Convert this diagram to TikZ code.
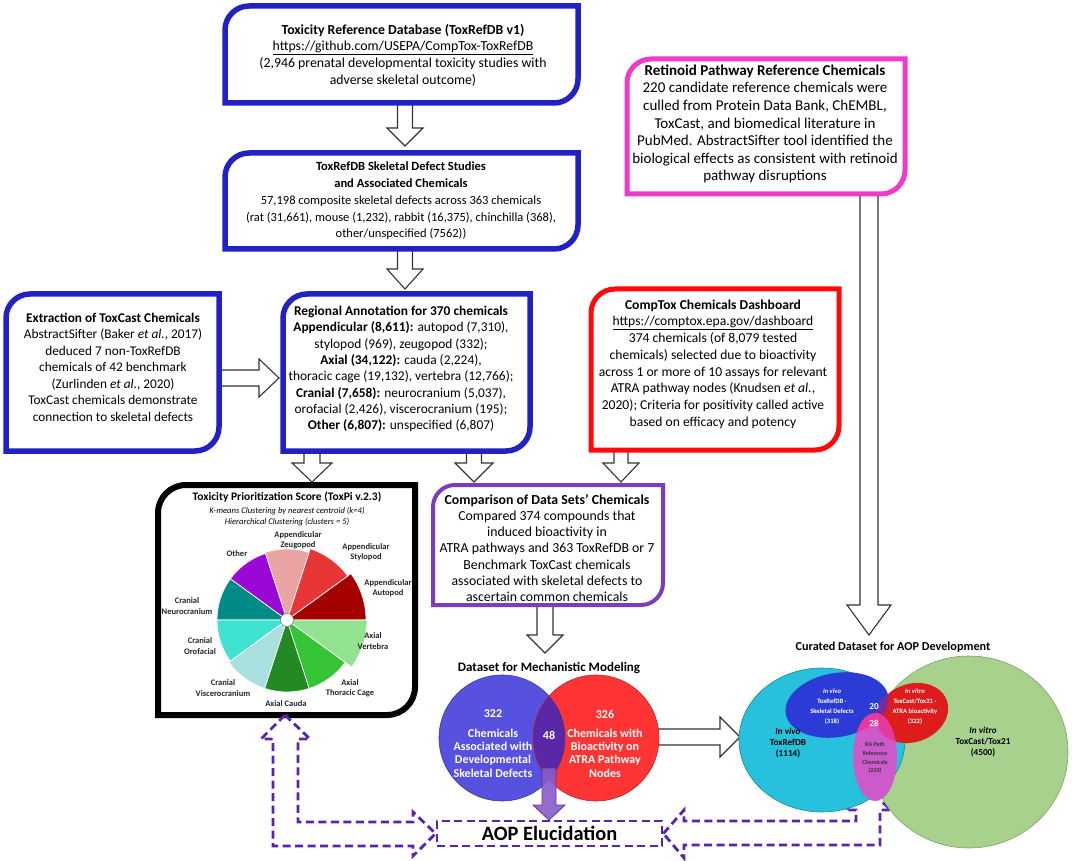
\documentclass[tikz,border=0pt]{standalone}
\usepackage{fontspec}
\setmainfont{Carlito}
\usetikzlibrary{calc}
\definecolor{bxblue}{HTML}{2121C4}
\definecolor{bxred}{HTML}{FF0A0A}
\definecolor{bxpink}{HTML}{F03ACB}
\definecolor{bxpurp}{HTML}{7A3CC2}
\definecolor{dpurp}{HTML}{5A22B0}
\definecolor{pAuto}{HTML}{A50000}
\definecolor{pStylo}{HTML}{E83535}
\definecolor{pZeugo}{HTML}{E9A3A3}
\definecolor{pOther}{HTML}{9B08D6}
\definecolor{pNeuro}{HTML}{008A88}
\definecolor{pOro}{HTML}{40E2D2}
\definecolor{pVisc}{HTML}{A9DFDF}
\definecolor{pCauda}{HTML}{238A23}
\definecolor{pThor}{HTML}{35C435}
\definecolor{pVert}{HTML}{92E292}
\definecolor{vBlue}{HTML}{5651DE}
\definecolor{vRed}{HTML}{FF3535}
\definecolor{vOver}{HTML}{5A27A6}
\definecolor{vArrow}{HTML}{8A5CC8}
\definecolor{cGreen}{HTML}{A9D18E}
\definecolor{cCyan}{HTML}{27C1DE}
\definecolor{cBlue}{HTML}{2B3BD6}
\definecolor{cRed}{HTML}{DD1C1C}
\definecolor{cPurp}{HTML}{7B2A9E}
\definecolor{cMag}{HTML}{CC5ACB}
\definecolor{cPink}{HTML}{E6389E}

\tikzset{
 boxtxt/.style={align=center, inner sep=0pt, font=\fontsize{13.5}{16.5}\selectfont},
 frm/.style={inner sep=0pt, outer sep=0pt},
 hollow/.style={fill=white, draw=black!80, line width=1.1pt, line join=miter},
 dashedarrow/.style={draw=dpurp, line width=2.8pt, dash pattern=on 8pt off 4.5pt, line join=miter},
 pielbl/.style={align=center, inner sep=0pt, font=\fontsize{8.5}{10.5}\selectfont\bfseries, text=black!85},
 vtxt/.style={align=center, inner sep=0pt, text=white, font=\fontsize{12}{13.3}\selectfont\bfseries},
 ctxt/.style={align=center, inner sep=0pt, text=white, font=\fontsize{6.6}{10}\selectfont\bfseries},
 gtxt/.style={align=center, inner sep=0pt, text=black, font=\fontsize{9.2}{11.3}\selectfont\bfseries},
}

\newcommand\mkframe[5]{\node[frm, minimum width={(#4-#2)*1pt}, minimum height={(#5-#3)*1pt}] (#1) at ({(#2+#4)/2},{(#3+#5)/2}) {};}
\newcommand\rdborder[3]{%
 \filldraw[fill=white,#2] (#1.south west) -- ([yshift=-#3pt]#1.north west)
  .. controls ([yshift={-0.448*#3pt}]#1.north west) and ([xshift={0.448*#3pt}]#1.north west) .. ([xshift=#3pt]#1.north west)
  -- (#1.north east) -- ([yshift=#3pt]#1.south east)
  .. controls ([yshift={0.448*#3pt}]#1.south east) and ([xshift={-0.448*#3pt}]#1.south east) .. ([xshift=-#3pt]#1.south east)
  -- cycle;}
% down block arrow: cx, y1, y2, shaft half, head half, head length
\newcommand\bdown[6]{\filldraw[hollow] ({#1-#4},#2) -- ({#1-#4},{#3-#6}) -- ({#1-#5},{#3-#6}) -- (#1,#3) -- ({#1+#5},{#3-#6}) -- ({#1+#4},{#3-#6}) -- ({#1+#4},#2) -- cycle;}
% right block arrow: cy, x1, x2, shaft half, head half, head length
\newcommand\bright[6]{\filldraw[hollow] (#2,{#1-#4}) -- ({#3-#6},{#1-#4}) -- ({#3-#6},{#1-#5}) -- (#3,#1) -- ({#3-#6},{#1+#5}) -- ({#3-#6},{#1+#4}) -- (#2,{#1+#4}) -- cycle;}

\begin{document}
\begin{tikzpicture}[x=1pt,y=-1pt]
\useasboundingbox[fill=white] (0,0) rectangle (1072,861);

% ---------- block arrows (drawn first, boxes cover their ends)
\bdown{405}{100}{146}{7.5}{18}{18}
\bdown{405}{245}{289}{7.5}{18}{20}
\bright{378}{215}{279}{8}{19}{20}
\bdown{312}{448}{482}{8}{20}{19}
\bdown{474}{448}{482}{7.5}{19}{19}
\bdown{621}{447}{482}{7}{18}{19}
\bdown{869}{190}{635}{9}{22}{30}
\bdown{545}{600}{653}{8}{18}{18}
\bright{737}{655}{740}{8}{20}{20}

% ---------- frames
\mkframe{f1}{225}{6}{578}{103}
\mkframe{f2}{225}{153}{578}{249}
\mkframe{fext}{6}{294}{219}{451}
\mkframe{freg}{283}{294}{530}{451}
\mkframe{fcomp}{591}{289}{839}{450}
\mkframe{fret}{627}{59}{905}{194}
\mkframe{fcmp}{433}{485}{663}{605}
\mkframe{ftox}{158}{485}{415}{715}
\rdborder{f1}{draw=bxblue, line width=5.5pt}{24}
\rdborder{f2}{draw=bxblue, line width=5.5pt}{24}
\rdborder{fext}{draw=bxblue, line width=5.5pt}{24}
\rdborder{freg}{draw=bxblue, line width=5.5pt}{24}
\rdborder{fcomp}{draw=bxred, line width=5pt}{24}
\rdborder{fret}{draw=bxpink, line width=5pt}{24}
\rdborder{fcmp}{draw=bxpurp, line width=4pt}{22}
\rdborder{ftox}{draw=black, line width=6pt}{28}

% ---------- box texts
\node[boxtxt, font=\fontsize{13.8}{16.7}\selectfont] (t1) at (403,55) {\textbf{Toxicity Reference Database (ToxRefDB v1)}\\
\underline{https://github.com/USEPA/CompTox-ToxRefDB}\\
(2,946 prenatal developmental toxicity studies with\\
adverse skeletal outcome)};
\node[boxtxt, font=\fontsize{12.5}{16.7}\selectfont] (t2) at (401,201) {\textbf{ToxRefDB Skeletal Defect Studies}\\
\textbf{and Associated Chemicals}\\
57,198 composite skeletal defects across 363 chemicals\\
(rat (31,661), mouse (1,232), rabbit (16,375), chinchilla (368),\\
other/unspecified (7562))};
\node[boxtxt, font=\fontsize{13.3}{16.5}\selectfont] (text) at (113,367) {\textbf{Extraction of ToxCast Chemicals}\\
AbstractSifter (Baker \textit{et al.}, 2017)\\
deduced 7 non-ToxRefDB\\
chemicals of 42 benchmark\\
(Zurlinden \textit{et al.}, 2020)\\
ToxCast chemicals demonstrate\\
connection to skeletal defects};
\node[boxtxt, font=\fontsize{13.4}{16.3}\selectfont] (treg) at (401,369) {\textbf{Regional Annotation for 370 chemicals}\\
\textbf{Appendicular (8,611):} autopod (7,310),\\
stylopod (969), zeugopod (332);\\
\textbf{Axial (34,122):} cauda (2,224),\\
thoracic cage (19,132), vertebra (12,766);\\
\textbf{Cranial (7,658):} neurocranium (5,037),\\
orofacial (2,426), viscerocranium (195);\\
\textbf{Other (6,807):} unspecified (6,807)};
\node[boxtxt, font=\fontsize{13.6}{16.7}\selectfont] (tcomp) at (713,364) {\textbf{CompTox Chemicals Dashboard}\\
\underline{https://comptox.epa.gov/dashboard}\\
374 chemicals (of 8,079 tested\\
chemicals) selected due to bioactivity\\
across 1 or more of 10 assays for relevant\\
ATRA pathway nodes (Knudsen \textit{et al.},\\
2020); Criteria for positivity called active\\
based on efficacy and potency};
\node[boxtxt, font=\fontsize{15}{17.6}\selectfont] (tret) at (765,124) {\textbf{Retinoid Pathway Reference Chemicals}\\
220 candidate reference chemicals were\\
culled from Protein Data Bank, ChEMBL,\\
ToxCast, and biomedical literature in\\
PubMed. AbstractSifter tool identified the\\
biological effects as consistent with retinoid\\
pathway disruptions};
\node[boxtxt, font=\fontsize{13.8}{16.3}\selectfont] (tcmp) at (547,548) {\textbf{Comparison of Data Sets’ Chemicals}\\
Compared 374 compounds that\\
induced bioactivity in\\
ATRA pathways and 363 ToxRefDB or 7\\
Benchmark ToxCast chemicals\\
associated with skeletal defects to\\
ascertain common chemicals};

% ---------- ToxPi
\node[inner sep=0pt, font=\fontsize{11.5}{13}\selectfont\bfseries] (toxtitle) at (287,497) {Toxicity Prioritization Score (ToxPi v.2.3)};
\node[inner sep=0pt, align=center, font=\fontsize{8.6}{11}\selectfont\itshape] (toxsub) at (287,516.5) {K-means Clustering by nearest centroid (k=4)\\ Hierarchical Clustering (clusters = 5)};
\begin{scope}[shift={(287,620)}, x=1pt, y=1pt]
 \foreach \a/\b/\r/\c in {0/36/79/pAuto, 36/72/75/pStylo, 72/108/71/pZeugo, 108/144/70/pOther, 144/180/70/pNeuro, 180/216/70/pOro, 216/252/72/pVisc, 252/288/72/pCauda, 288/324/72/pThor, 324/360/80/pVert}
  {\filldraw[fill=\c, draw=white, line width=0.7pt] (0,0) -- (\a:\r) arc[start angle=\a, end angle=\b, radius=\r] -- cycle;}
 \filldraw[fill=white, draw=black!50, line width=0.6pt] (0,0) circle[radius=6.5];
\end{scope}
\node[pielbl] (lzeu) at (298,540) {Appendicular\\Zeugopod};
\node[pielbl] (lsty) at (366,552) {Appendicular\\Stylopod};
\node[pielbl] (laut) at (388,588) {Appendicular\\Autopod};
\node[pielbl] (lver) at (373,641) {Axial\\Vertebra};
\node[pielbl] (ltho) at (350,688) {Axial\\Thoracic Cage};
\node[pielbl] (lcau) at (286,704) {Axial Cauda};
\node[pielbl] (lvis) at (223,688) {Cranial\\Viscerocranium};
\node[pielbl] (loro) at (200,646) {Cranial\\Orofacial};
\node[pielbl] (lneu) at (187,606) {Cranial\\Neurocranium};
\node[pielbl] (loth) at (237,554) {Other};

% ---------- Venn: mechanistic modeling
\node[inner sep=0pt, font=\fontsize{13}{14}\selectfont\bfseries] (vtitle) at (549,668) {Dataset for Mechanistic Modeling};
\fill[vBlue] (502,738) circle[radius=63];
\fill[vRed] (596,738) circle[radius=63];
\begin{scope}
 \clip (502,738) circle[radius=63];
 \fill[vOver] (596,738) circle[radius=63];
\end{scope}
\draw[vBlue!70!black, line width=0.6pt] (502,738) circle[radius=63];
\draw[vRed!70!black, line width=0.6pt] (596,738) circle[radius=63];
\node[vtxt] (v322) at (493,714) {322};
\node[vtxt] (vleft) at (493,753) {Chemicals\\Associated with\\Developmental\\Skeletal Defects};
\node[vtxt] (v326) at (605,714) {326};
\node[vtxt] (vright) at (605,753) {Chemicals with\\Bioactivity on\\ATRA Pathway\\Nodes};
\node[vtxt] (v48) at (549,735) {48};
\filldraw[fill=vArrow, draw=vOver, line width=0.8pt, opacity=0.9] (542,768) -- (542,805) -- (533,805) -- (549,820) -- (565,805) -- (556,805) -- (556,768) -- cycle;

% ---------- AOP elucidation
\node[draw=dpurp, line width=2.8pt, dash pattern=on 8pt off 4.5pt, minimum width=225pt, minimum height=25pt, inner sep=0pt, font=\fontsize{20.4}{22}\selectfont\bfseries] (aop) at (549.5,833.5) {AOP Elucidation};
\draw[dashedarrow] (ftox.south -| 285,0) -- (310,739) -- (298,739) -- (298,822) -- (413,822) -- (413,812) -- (aop.west) -- (413,856) -- (413,846) -- (273,846) -- (273,739) -- (261,739) -- cycle;
\draw[dashedarrow] (aop.east) -- (684,810) -- (684,821) -- (856,821) -- (856,810) -- (845,810) -- (868,789) -- (891,810) -- (880,810) -- (880,845) -- (684,845) -- (684,858) -- cycle;

% ---------- Curated Venn
\node[inner sep=0pt, font=\fontsize{12.2}{13}\selectfont\bfseries] (ctitle) at (893,647) {Curated Dataset for AOP Development};
\filldraw[fill=cGreen, draw=cGreen!75!black, line width=0.6pt] (969,752) ellipse[x radius=99, y radius=96];
\filldraw[fill=cCyan, draw=cCyan!70!black, line width=0.6pt] (822,740) ellipse[x radius=83, y radius=72];
\fill[cBlue, rotate around={10:(837,705)}] (837,705) ellipse[x radius=52, y radius=32];
\fill[cRed, rotate around={20:(912,713)}] (912,713) ellipse[x radius=37, y radius=29];
\begin{scope}
 \clip[rotate around={10:(837,705)}] (837,705) ellipse[x radius=52, y radius=32];
 \fill[cPurp, rotate around={20:(912,713)}] (912,713) ellipse[x radius=37, y radius=29];
\end{scope}
\fill[cMag] (875,757) ellipse[x radius=22, y radius=44];
\begin{scope}
 \clip (875,757) ellipse[x radius=22, y radius=44];
 \fill[cPink, rotate around={10:(837,705)}] (837,705) ellipse[x radius=52, y radius=32];
 \fill[cPink, rotate around={20:(912,713)}] (912,713) ellipse[x radius=37, y radius=29];
\end{scope}
\node[ctxt] (cbl) at (832,706.5) {\textit{In vivo}\\ToxRefDB -\\Skeletal Defects\\(318)};
\node[ctxt] (crd) at (915,706.5) {\textit{In vitro}\\ToxCast/Tox21 -\\ATRA bioactivity\\(322)};
\node[inner sep=0pt, align=center, text=black!80, font=\fontsize{6}{8.8}\selectfont\bfseries] (cmg) at (875,758) {RA Path\\Reference\\Chemicals\\(220)};
\node[inner sep=0pt, text=white, font=\fontsize{9.2}{10}\selectfont\bfseries] (c20) at (874,707) {20};
\node[inner sep=0pt, text=white, font=\fontsize{9.2}{10}\selectfont\bfseries] (c28) at (874,723) {28};
\node[gtxt] (ccy) at (788,743) {\textit{In vivo}\\ToxRefDB\\(1114)};
\node[gtxt] (cgr) at (983,742) {\textit{In vitro}\\ToxCast/Tox21\\(4500)};
\end{tikzpicture}
\end{document}
